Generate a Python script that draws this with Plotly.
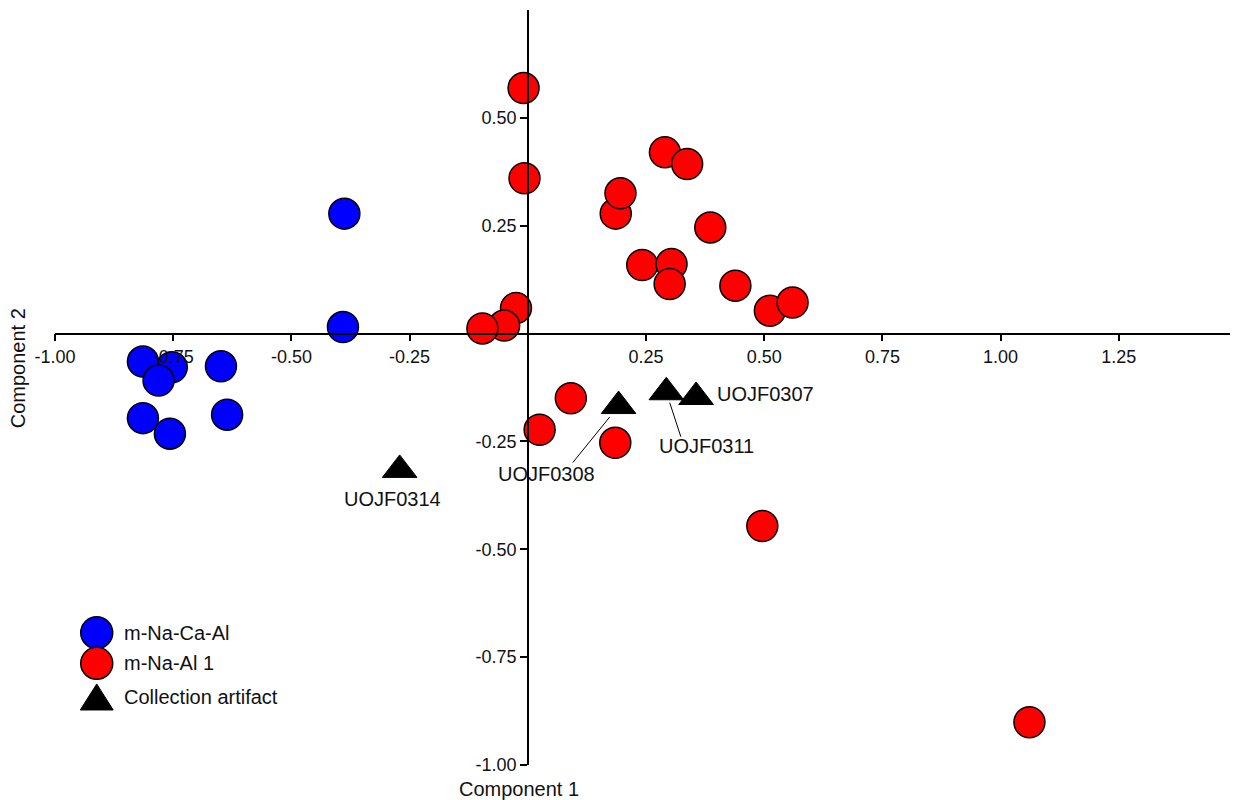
import plotly.graph_objects as go

# ---- data ----
blue_name = "m-Na-Ca-Al"
blue_x = [-0.388, -0.391, -0.753, -0.814, -0.781, -0.649, -0.814, -0.757, -0.636]
blue_y = [0.278, 0.015, -0.078, -0.065, -0.109, -0.076, -0.196, -0.232, -0.188]

red_name = "m-Na-Al 1"
red_x = [-0.009, -0.007, 0.290, 0.337, 0.186, 0.196, 0.386, 0.242, 0.304, 0.300,
         0.439, 0.512, 0.560, -0.025, -0.050, -0.096, 0.091, 0.025, 0.185, 0.496, 1.061]
red_y = [0.569, 0.360, 0.420, 0.393, 0.278, 0.325, 0.246, 0.159, 0.161, 0.115,
         0.111, 0.053, 0.072, 0.059, 0.0185, 0.012, -0.150, -0.223, -0.253, -0.446, -0.901]

tri_name = "Collection artifact"
tri_x = [0.192, 0.293, 0.356, -0.271]
tri_y = [-0.168, -0.136, -0.147, -0.316]
tri_labels = ["UOJF0308", "UOJF0311", "UOJF0307", "UOJF0314"]

x_ticks = [-1.00, -0.75, -0.50, -0.25, 0.25, 0.50, 0.75, 1.00, 1.25]
y_ticks = [0.50, 0.25, -0.25, -0.50, -0.75, -1.00]
x_title = "Component 1"
y_title = "Component 2"

# ---- styling ----
FONT = "Arial, 'Liberation Sans', sans-serif"
X_RANGE = [-1.0, 1.5]
Y_RANGE = [-1.0, 0.75]
CIRCLE_SIZE = 31
TRI_SIZE = 30

fig = go.Figure()
fig.add_trace(go.Scatter(x=blue_x, y=blue_y, mode="markers", name=blue_name,
                         marker=dict(symbol="circle", size=CIRCLE_SIZE, color="#0000FF",
                                     line=dict(color="black", width=1.5))))
fig.add_trace(go.Scatter(x=red_x, y=red_y, mode="markers", name=red_name,
                         marker=dict(symbol="circle", size=CIRCLE_SIZE, color="#FF0000",
                                     line=dict(color="black", width=1.5))))
fig.add_trace(go.Scatter(x=tri_x, y=tri_y, mode="markers", name=tri_name,
                         marker=dict(symbol="triangle-up", size=TRI_SIZE, color="black",
                                     line=dict(color="black", width=1))))

# axes crossing at the origin
x_pos = (0 - Y_RANGE[0]) / (Y_RANGE[1] - Y_RANGE[0])
y_pos = (0 - X_RANGE[0]) / (X_RANGE[1] - X_RANGE[0])

axis_common = dict(showgrid=False, zeroline=False, showline=True, linecolor="black",
                   linewidth=1.5, ticks="outside", ticklen=7, tickwidth=1.5,
                   tickcolor="black", tickfont=dict(family=FONT, size=18, color="#111111"),
                   layer="above traces")
fig.update_xaxes(range=X_RANGE, anchor="free", position=x_pos,
                 tickmode="array", tickvals=x_ticks,
                 ticktext=[f"{v:.2f}" for v in x_ticks], **axis_common)
fig.update_yaxes(range=Y_RANGE, anchor="free", position=y_pos,
                 tickmode="array", tickvals=y_ticks,
                 ticktext=[f"{v:.2f}" for v in y_ticks], **axis_common)

annotations = []
# point labels (pixel offsets from each triangle)
label_style = {
    "UOJF0308": dict(xshift=-72, yshift=-68, xanchor="center"),
    "UOJF0311": dict(xshift=40, yshift=-54, xanchor="center"),
    "UOJF0307": dict(xshift=19, yshift=3, xanchor="left"),
    "UOJF0314": dict(xshift=-7, yshift=-29, xanchor="center"),
}
leaders = {
    "UOJF0308": dict(ax=-47, ay=58, standoff=14),
    "UOJF0311": dict(ax=15, ay=46, standoff=11),
}
for lx, ly, lt in zip(tri_x, tri_y, tri_labels):
    st = label_style[lt]
    annotations.append(dict(x=lx, y=ly, xref="x", yref="y", text=lt, showarrow=False,
                            xanchor=st["xanchor"], yanchor="middle",
                            xshift=st["xshift"], yshift=st["yshift"],
                            font=dict(family=FONT, size=20, color="#111111")))
    if lt in leaders:
        ld = leaders[lt]
        annotations.append(dict(x=lx, y=ly, xref="x", yref="y", text="", showarrow=True,
                                arrowhead=0, arrowwidth=1, arrowcolor="black",
                                ax=ld["ax"], ay=ld["ay"], axref="pixel", ayref="pixel",
                                standoff=ld["standoff"]))

# axis titles
annotations.append(dict(x=0.3926, y=-0.032, xref="paper", yref="paper", text=x_title,
                        showarrow=False, xanchor="center", yanchor="middle",
                        font=dict(family=FONT, size=20, color="#111111")))
annotations.append(dict(x=-0.031, y=0.526, xref="paper", yref="paper", text=y_title,
                        showarrow=False, xanchor="center", yanchor="middle", textangle=-90,
                        font=dict(family=FONT, size=20, color="#111111")))

# custom legend (large symbols like the reference)
leg_x = 0.0353
leg_text_x = 0.0564
leg_rows = [0.1752, 0.1347, 0.0901]
shapes = []
for yy, col in zip(leg_rows[:2], ["#0000FF", "#FF0000"]):
    shapes.append(dict(type="circle", xref="paper", yref="paper",
                       xsizemode="pixel", ysizemode="pixel",
                       xanchor=leg_x, yanchor=yy, x0=-16, x1=16, y0=-16, y1=16,
                       fillcolor=col, line=dict(color="black", width=1.5)))
shapes.append(dict(type="path", xref="paper", yref="paper",
                   xsizemode="pixel", ysizemode="pixel",
                   xanchor=leg_x, yanchor=leg_rows[2],
                   path="M -16.5,-13 L 16.5,-13 L 0,13 Z",
                   fillcolor="black", line=dict(color="black", width=1)))
for yy, name in zip(leg_rows, [blue_name, red_name, tri_name]):
    annotations.append(dict(x=leg_text_x, y=yy, xref="paper", yref="paper", text=name,
                            showarrow=False, xanchor="left", yanchor="middle",
                            font=dict(family=FONT, size=20, color="#111111")))

# page body adds an 8px offset: shrink the figure so the plot lands where the reference's does
fig.update_layout(width=1230, height=792, autosize=False,
                  margin=dict(l=47, r=1, t=2, b=35),
                  paper_bgcolor="white", plot_bgcolor="white",
                  showlegend=False, annotations=annotations, shapes=shapes,
                  font=dict(family=FONT))

fig.write_html("out.html")
